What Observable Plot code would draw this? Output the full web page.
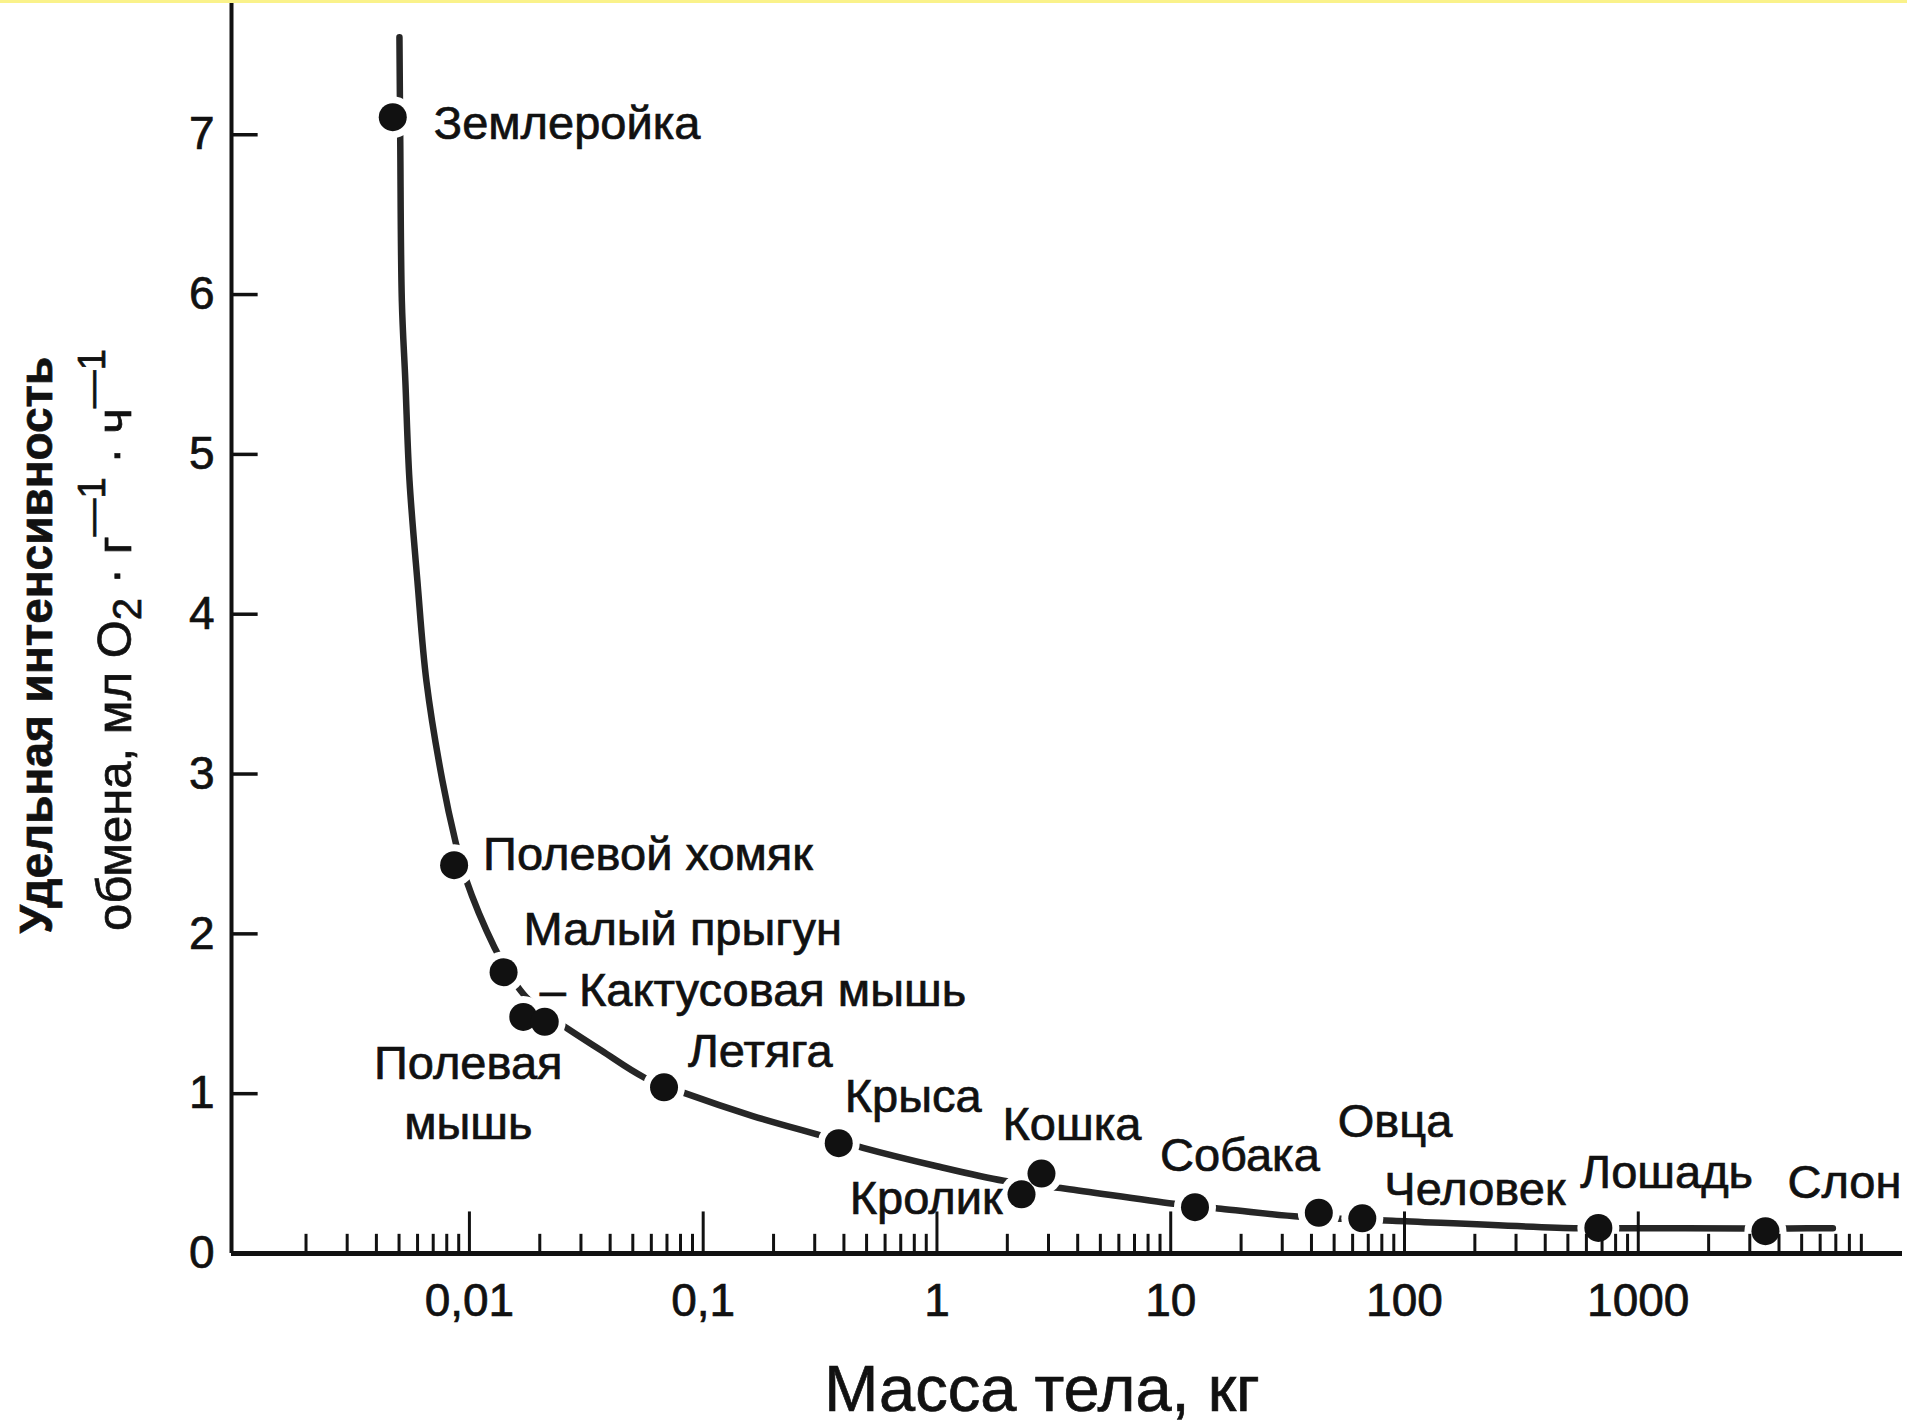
<!DOCTYPE html>
<html>
<head>
<meta charset="utf-8">
<script src="https://cdn.jsdelivr.net/npm/d3@7"></script>
<script src="https://cdn.jsdelivr.net/npm/@observablehq/plot@0.6"></script>
<style>
  html, body { margin: 0; padding: 0; background: #fff; overflow: hidden; }
  #chart { position: relative; }
  #chart svg text { stroke: #111; stroke-width: 0.7px; paint-order: stroke; }
  #strip { position: absolute; left: 0; top: 0; width: 1907px; height: 3px; background: #faf28a; z-index: 10; }
</style>
</head>
<body>
<div id="chart"></div>
<div id="strip"></div>
<script>
// ---- data ----
const species = ["Землеройка", "Полевой хомяк", "Малый прыгун", "Полевая мышь", "Кактусовая мышь",
  "Летяга", "Крыса", "Кролик", "Кошка", "Собака", "Овца", "Человек", "Лошадь", "Слон"];
const massKg = [0.0047, 0.0086, 0.014, 0.017, 0.021, 0.068, 0.38, 2.3, 2.8, 12.7, 43, 66, 675, 3500];
const rateO2 = [7.11, 2.43, 1.76, 1.48, 1.45, 1.04, 0.69, 0.37, 0.50, 0.29, 0.255, 0.22, 0.16, 0.14];
const labelText = ["Землеройка", "Полевой хомяк", "Малый прыгун", "Полевая\nмышь", "– Кактусовая мышь",
  "Летяга", "Крыса", "Кролик", "Кошка", "Собака", "Овца", "Человек", "Лошадь", "Слон"];

// hand-drawn trend curve
const curveMass = [0.00502, 0.00506, 0.00514, 0.00532, 0.00554, 0.00599, 0.00655, 0.00766, 0.00871, 0.00962,
  0.0128, 0.01542, 0.01753, 0.02113, 0.02624, 0.0367, 0.05604, 0.0846, 0.163, 0.323, 0.483, 0.98, 1.93,
  3.56, 10.3, 16.4, 36, 88.9, 555, 871, 2950, 4420, 6800];
const curveRate = [7.61, 6.96, 5.96, 5.46, 4.84, 4.21, 3.58, 2.96, 2.58, 2.35,
  1.915, 1.708, 1.602, 1.502, 1.408, 1.27, 1.101, 1.00, 0.86, 0.736, 0.661, 0.549, 0.455,
  0.405, 0.311, 0.280, 0.230, 0.205, 0.158, 0.158, 0.157, 0.157, 0.158];

const xTickValues = [0.01, 0.1, 1, 10, 100, 1000];
const xTickLabels = ["0,01", "0,1", "1", "10", "100", "1000"];
const yTickValues = [0, 1, 2, 3, 4, 5, 6, 7];

// ---- layout / style ----
const labelOffsets = [[41, 3], [29, -14], [20, -46], [-55, 73], [-5, -35], [24, -39], [6, -50],
  [-19, 1], [-39, -53], [-35, -55], [19, -95], [22, -32], [-18, -59], [22, -52]];
const labelAnchor = ["start", "start", "start", "middle", "start", "start", "start",
  "end", "start", "start", "start", "start", "start", "start"];
const xDomain = [0.00096, 13500];
const ink = "#111";
const font = "'Liberation Sans', Arial, Helvetica, sans-serif";

const xMinorTicks = [];
for (let k = -3; k <= 3; k++) for (let m = 2; m <= 9; m++) xMinorTicks.push(+(m * Math.pow(10, k)).toPrecision(3));

const pts = species.map((name, i) => ({name, mass: massKg[i], rate: rateO2[i], label: labelText[i]}));
const curve = curveMass.map((m, i) => ({mass: m, rate: curveRate[i]}));

const labelMarks = pts.map((d, i) => Plot.text([d], {
  x: "mass", y: "rate", text: "label",
  dx: labelOffsets[i][0], dy: labelOffsets[i][1],
  textAnchor: labelAnchor[i], lineAnchor: "middle", lineHeight: 1.27,
  fontSize: 47, fill: ink
}));

const svg = Plot.plot({
  width: 1907,
  height: 1422,
  marginLeft: 231,
  marginRight: 5,
  marginTop: 0,
  marginBottom: 169,
  style: {fontFamily: font, fontSize: "46px", color: ink, background: "white", overflow: "visible"},
  x: {type: "log", domain: xDomain, ticks: xTickValues, tickFormat: d => xTickLabels[xTickValues.indexOf(d)],
      tickSize: 0, tickPadding: 30, label: null},
  y: {domain: [0, 7.84], ticks: yTickValues, tickSize: 0, tickPadding: 17, label: null},
  marks: [
    Plot.line(curve, {x: "mass", y: "rate", curve: "catmull-rom", stroke: "#262626", strokeWidth: 6.5, strokeLinecap: "round"}),
    Plot.dot(pts, {x: "mass", y: "rate", r: 21, fill: "white", stroke: "none"}),
    Plot.dot(pts, {x: "mass", y: "rate", r: 14, fill: ink, stroke: "none"}),
    Plot.ruleX(xMinorTicks, {x: d => d, y1: () => 0, y2: () => 0.12, stroke: ink, strokeWidth: 3}),
    Plot.ruleX(xTickValues, {x: d => d, y1: () => 0, y2: () => 0.26, stroke: ink, strokeWidth: 3}),
    Plot.ruleY(yTickValues.filter(v => v > 0), {y: d => d, x1: () => xDomain[0], x2: () => xDomain[0] * 1.3, stroke: ink, strokeWidth: 3.5}),
    Plot.ruleY([0], {stroke: ink, strokeWidth: 5}),
    Plot.ruleX([xDomain[0]], {stroke: ink, strokeWidth: 4}),
    ...labelMarks
  ]
});

const s = d3.select(svg);
// y-axis title (two lines, rotated)
s.append("text")
  .attr("transform", "translate(52,645) rotate(-90)")
  .attr("text-anchor", "middle")
  .attr("font-family", font)
  .attr("font-weight", "bold")
  .attr("font-size", 46)
  .attr("fill", ink)
  .text("Удельная интенсивность");
const t2 = s.append("text")
  .attr("transform", "translate(131,640) rotate(-90)")
  .attr("text-anchor", "middle")
  .attr("font-family", font)
  .attr("font-size", 49)
  .attr("fill", ink);
t2.append("tspan").text("обмена, мл O");
t2.append("tspan").attr("font-size", 40).attr("dy", 10).text("2");
t2.append("tspan").attr("dy", -10).text(" · г");
t2.append("tspan").attr("font-size", 38).attr("dy", -26).text("—1");
t2.append("tspan").attr("dy", 26).text(" · ч");
t2.append("tspan").attr("font-size", 38).attr("dy", -26).text("—1");
// x-axis title
s.append("text")
  .attr("x", 1042).attr("y", 1411)
  .attr("text-anchor", "middle")
  .attr("font-family", font)
  .attr("font-size", 65)
  .attr("fill", ink)
  .text("Масса тела, кг");

document.getElementById("chart").appendChild(svg);
</script>
</body>
</html>
